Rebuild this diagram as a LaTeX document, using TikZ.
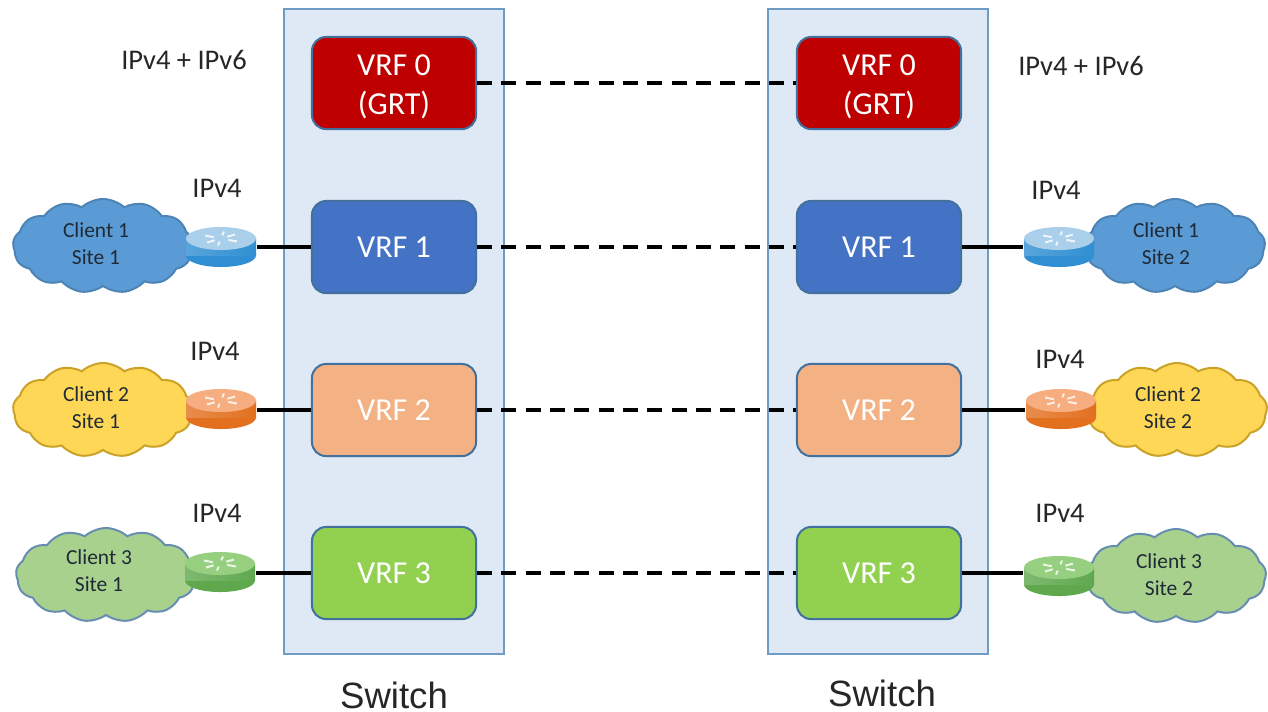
\documentclass[tikz,border=0pt]{standalone}
\usepackage{fontspec}
\setmainfont{Carlito}
\newfontfamily\switchfont{Liberation Sans}
\usetikzlibrary{shapes.symbols}
\definecolor{switchfill}{HTML}{DEE9F5}
\definecolor{switchline}{HTML}{6E9CC4}
\definecolor{vrfline}{HTML}{41719C}
\definecolor{cloudblue}{HTML}{5B9BD5}
\definecolor{cloudyellow}{HTML}{FFD757}
\definecolor{cloudgreen}{HTML}{A9D18E}
\definecolor{goldline}{HTML}{C9A227}
\definecolor{cloudtext}{HTML}{1F2A36}
\tikzset{
    switchbox/.style={draw=switchline, fill=switchfill, line width=0.2mm, minimum width=2.2cm, minimum height=6.45cm, inner sep=0pt},
    vrfbox/.style={draw=vrfline, fill=#1, line width=0.2mm, rounded corners=0.14cm, minimum width=1.64cm, minimum height=0.92cm, align=center, text=white, font=\fontsize{9.1}{11.2}\selectfont, inner sep=0pt},
    clientcloud/.style n args={2}{cloud, cloud puffs=13, cloud puff arc=85, aspect=2, draw=#2, fill=#1, line width=0.2mm, minimum width=1.80cm, minimum height=0.94cm, inner sep=0pt},
    clienttext/.style={align=center, text=cloudtext, font=\fontsize{6.1}{7.7}\selectfont, inner sep=0pt},
    routerbox/.style={minimum width=0.70cm, minimum height=0.41cm, inner sep=0pt},
    ipnote/.style={text=black!85, font=\fontsize{8.1}{10}\selectfont, inner sep=0pt},
    switchnote/.style={text=black!85, font=\switchfont\fontsize{10.4}{12}\selectfont, inner sep=0pt},
    solidlink/.style={black, line width=0.35mm},
    dashlink/.style={black, line width=0.35mm, dash pattern=on 1.5mm off 0.93mm}
}
\begin{document}
\begin{tikzpicture}[x=0.01cm, y=-0.01cm]
    \useasboundingbox (0,0) rectangle (1268,711);

    % Switches
    \node[switchbox] (swL) at (394,331.5) {};
    \node[switchbox] (swR) at (878,331.5) {};
    \node[switchnote] (swLtext) at (394,695) {Switch};
    \node[switchnote] (swRtext) at (882,693) {Switch};

    % VRFs
    \node[vrfbox={red!75!black}] (vrf0L) at (394,83) {\rule{0pt}{8pt}VRF 0\\(GRT)};
    \node[vrfbox={red!75!black}] (vrf0R) at (879,83) {\rule{0pt}{8pt}VRF 0\\(GRT)};
    \foreach \n/\col/\y in {1/4472C4/247, 2/F4B183/410, 3/92D050/573} {
        \definecolor{vrfcol}{HTML}{\col}
        \node[vrfbox=vrfcol] (vrf\n L) at (394,\y) {VRF \n};
        \node[vrfbox=vrfcol] (vrf\n R) at (879,\y) {VRF \n};
    }

    % Clouds
    \foreach \n/\col/\edge/\xl/\yl/\xr/\yr in {1/cloudblue/cloudblue!85!black/103/246/1175/246, 2/cloudyellow/goldline/103/410/1177/410, 3/cloudgreen/vrfline!80/106/575/1176/576} {
        \node[clientcloud={\col}{\edge}] (cloud\n L) at (\xl,\yl) {};
        \node[clientcloud={\col}{\edge}] (cloud\n R) at (\xr,\yr) {};
    }
    \node[clienttext] (client1L) at (96,244) {Client 1\\Site 1};
    \node[clienttext] (client2L) at (96,408) {Client 2\\Site 1};
    \node[clienttext] (client3L) at (99,571) {Client 3\\Site 1};
    \node[clienttext] (client1R) at (1166,244) {Client 1\\Site 2};
    \node[clienttext] (client2R) at (1168,408) {Client 2\\Site 2};
    \node[clienttext] (client3R) at (1169,575) {Client 3\\Site 2};

    % Routers
    \foreach \name/\x/\y/\bodycol/\topcol in {
        r1L/221/247/2F8FD2/A9CFEA, r1R/1059/247/2F8FD2/A9CFEA,
        r2L/221/409/E2701F/F6AD80, r2R/1061/409/E2701F/F6AD80,
        r3L/220/572/5FA84E/96CF7F, r3R/1059/576/5FA84E/96CF7F} {
        \definecolor{bodycol}{HTML}{\bodycol}
        \definecolor{topcol}{HTML}{\topcol}
        \node[routerbox] (\name) at (\x,\y) {};
        \fill[bodycol] (\x,\y+8.5) ellipse (35 and 11.5);
        \shade[left color=bodycol!80!white, right color=bodycol] (\x-35,\y-8.5) rectangle (\x+35,\y+8.5);
        \fill[topcol] (\x,\y-8.5) ellipse (35 and 11.5);
        \foreach \dx/\dy in {-16/-3, 16/3, -14/4, 14/-4, -3/7, 3/-7} {
            \draw[white, opacity=0.8, line width=0.2mm] (\x,\y-8.5) ++(\dx*0.45,\dy*0.45) -- ++(\dx*0.55,\dy*0.55);
        }
    }

    % IP labels
    \node[ipnote] (ipL) at (184,60) {IPv4 + IPv6};
    \node[ipnote] (ipR) at (1081,66) {IPv4 + IPv6};
    \node[ipnote] (ip1L) at (217,188) {IPv4};
    \node[ipnote] (ip2L) at (215,351) {IPv4};
    \node[ipnote] (ip3L) at (217,513) {IPv4};
    \node[ipnote] (ip1R) at (1056,190) {IPv4};
    \node[ipnote] (ip2R) at (1060,359) {IPv4};
    \node[ipnote] (ip3R) at (1060,513) {IPv4};

    % Links
    \foreach \n in {0,1,2,3} {
        \draw[dashlink] (vrf\n L.east) -- (vrf\n R.west);
    }
    \foreach \n in {1,2,3} {
        \draw[solidlink] (vrf\n L.west) -- (vrf\n L.west -| r\n L.east);
        \draw[solidlink] (vrf\n R.east) -- (vrf\n R.east -| r\n R.west);
    }
\end{tikzpicture}
\end{document}
